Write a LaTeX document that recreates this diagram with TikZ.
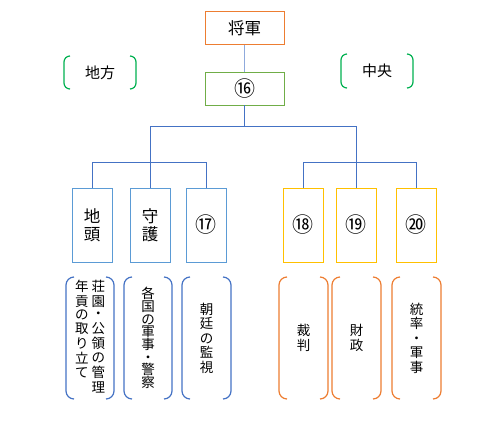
\documentclass[tikz,border=0pt]{standalone}
\usepackage{fontspec}
\setmainfont{Noto Sans CJK JP}
\definecolor{oorange}{HTML}{ED7D31}
\definecolor{ogreen}{HTML}{70AD47}
\definecolor{bgreen}{HTML}{00B050}
\definecolor{oblue}{HTML}{4472C4}
\definecolor{lblue}{HTML}{5B9BD5}
\definecolor{lineblue}{HTML}{8FAADC}
\definecolor{ogold}{HTML}{FFC000}
\newcommand\mybrk[3]{% node, radius, colour
  \draw[#3,line width=1.2pt,rounded corners=#2pt]
    ([xshift=#2pt]#1.north west) -- (#1.north west) -- (#1.south west) -- ([xshift=#2pt]#1.south west);
  \draw[#3,line width=1.2pt,rounded corners=#2pt]
    ([xshift=-#2pt]#1.north east) -- (#1.north east) -- (#1.south east) -- ([xshift=-#2pt]#1.south east);
}
\begin{document}
\begin{tikzpicture}[x=1pt,y=-1pt,
  box/.style={draw,line width=1pt,inner sep=0pt,outer sep=0pt},
  topbox/.style={box,minimum width=79pt,minimum height=33pt},
  tallbox/.style={box,minimum width=40pt,minimum height=74pt,align=center,
     font=\fontsize{16.5}{18}\selectfont},
  circ/.style={font=\fontsize{21}{22}\selectfont},
  brk/.style={inner sep=0pt,outer sep=0pt,align=center,
     font=\fontsize{13.5}{12.7}\selectfont},
  link/.style={oblue,line width=0.9pt}]
\useasboundingbox (0,0) rectangle (500,420);
% top
\node[topbox,oorange,text=black,font=\fontsize{16.5}{18}\selectfont] (shogun) at (244.5,28.5) {将軍};
\node[topbox,ogreen,text=black,circ] (n16) at (244.5,88.5) {⑯};
\node[brk,minimum width=72pt,minimum height=33pt,font=\fontsize{15}{16}\selectfont] (chiho) at (100,72.5) {地方};
\node[brk,minimum width=72pt,minimum height=34pt,font=\fontsize{15}{16}\selectfont] (chuo) at (377,71) {中央};
\mybrk{chiho}{6}{bgreen}
\mybrk{chuo}{6}{bgreen}
% middle row
\node[tallbox,lblue,text=black] (jito) at (92,225) {地\\頭};
\node[tallbox,lblue,text=black] (shugo) at (150,225) {守\\護};
\node[tallbox,lblue,text=black,circ] (n17) at (206,225) {⑰};
\node[tallbox,ogold,text=black,circ] (n18) at (303,225) {⑱};
\node[tallbox,ogold,text=black,circ] (n19) at (356,225) {⑲};
\node[tallbox,ogold,text=black,circ] (n20) at (416,225) {⑳};
% bottom row
\node[brk,minimum width=48pt,minimum height=122pt] (b1) at (90,338)
  {\begin{tabular}{@{}c@{\hspace{3pt}}c@{}}%
   \begin{tabular}[t]{@{}c@{}}年\\貢\\の\\取\\り\\立\\て\end{tabular}&
   \begin{tabular}[t]{@{}c@{}}荘\\園\\・\\公\\領\\の\\管\\理\end{tabular}\end{tabular}};
\node[brk,minimum width=48pt,minimum height=122pt] (b2) at (148,338) {各\\国\\の\\軍\\事\\・\\警\\察};
\node[brk,minimum width=49pt,minimum height=122pt,font=\fontsize{13.5}{14.5}\selectfont] (b3) at (206.5,338) {朝\\廷\\の\\監\\視};
\node[brk,minimum width=49pt,minimum height=122pt,font=\fontsize{13.5}{15}\selectfont] (b4) at (303.5,338) {裁\\判};
\node[brk,minimum width=49pt,minimum height=122pt,font=\fontsize{13.5}{15}\selectfont] (b5) at (356.5,338) {財\\政};
\node[brk,minimum width=49pt,minimum height=122pt,font=\fontsize{13.5}{14.5}\selectfont] (b6) at (416.5,338) {統\\率\\・\\軍\\事};
\mybrk{b1}{8}{oblue}
\mybrk{b2}{8}{oblue}
\mybrk{b3}{8}{oblue}
\mybrk{b4}{8}{oorange}
\mybrk{b5}{8}{oorange}
\mybrk{b6}{8}{oorange}
% connectors
\coordinate (jL) at (150,126);
\coordinate (jR) at (356,126);
\coordinate (hy) at (0,162);
\draw[lineblue,line width=1.6pt] (shogun.south) -- (n16.north);
\draw[link] (n16.south) -- (n16.south |- jL);
\draw[link] (jL) -- (jR);
\draw[link] (jL) -- (shugo.north);
\draw[link] (jR) -- (n19.north);
\draw[link] (jito.north |- hy) -- (n17.north |- hy);
\draw[link] (jito.north |- hy) -- (jito.north);
\draw[link] (n17.north |- hy) -- (n17.north);
\draw[link] (n18.north |- hy) -- (n20.north |- hy);
\draw[link] (n18.north |- hy) -- (n18.north);
\draw[link] (n20.north |- hy) -- (n20.north);
\end{tikzpicture}
\end{document}
